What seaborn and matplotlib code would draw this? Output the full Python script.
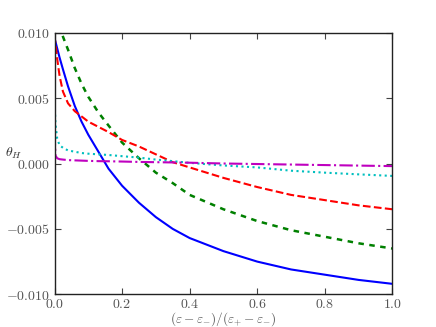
import numpy as np
import pandas as pd
import seaborn as sns
import matplotlib
matplotlib.use("Agg")
import matplotlib.pyplot as plt
from matplotlib.ticker import FixedLocator, FuncFormatter

# values
x = [0, 0.003, 0.008, 0.015, 0.025, 0.04, 0.06, 0.08, 0.1, 0.13, 0.16,
     0.2, 0.25, 0.3, 0.35, 0.4, 0.5, 0.6, 0.7, 0.8, 0.9, 1.0]

blue = [0.0096, 0.0093, 0.0088, 0.0081, 0.0072, 0.0059, 0.0044, 0.0032, 0.0022, 0.0009, -0.0004,
        -0.0017, -0.0030, -0.0041, -0.0050, -0.0057, -0.0067, -0.0075, -0.0081, -0.0085, -0.0089, -0.0092]
green = [0.0122, 0.0118, 0.0112, 0.0105, 0.0097, 0.0087, 0.0073, 0.0061, 0.0051, 0.0039, 0.0029,
         0.0016, 0.0004, -0.0007, -0.0015, -0.0024, -0.0035, -0.0044, -0.0051, -0.0056, -0.0061, -0.0065]
red = [0.0098, 0.0091, 0.0080, 0.0067, 0.0055, 0.0046, 0.0040, 0.0036, 0.0032, 0.0028, 0.0024,
       0.0018, 0.0013, 0.0007, 0.0001, -0.0003, -0.0011, -0.0018, -0.0024, -0.0028, -0.0032, -0.0035]
cyan = [0.0050, 0.0030, 0.0019, 0.0014, 0.0012, 0.0010, 0.0009, 0.0008, 0.00075, 0.0007, 0.00065,
        0.00056, 0.00045, 0.0003, 0.00018, 0.00005, -0.00015, -0.0003, -0.00055, -0.0007, -0.00083, -0.00095]
magenta = [0.0024, 0.0006, 0.0004, 0.00033, 0.0003, 0.00026, 0.00024, 0.00022, 0.0002, 0.00018, 0.00017,
           0.00015, 0.00012, 0.0001, 0.00008, 0.00006, 0.0, -0.00004, -0.00008, -0.00012, -0.00016, -0.0002]

xticks = [0.0, 0.2, 0.4, 0.6, 0.8, 1.0]
yticks = [-0.010, -0.005, 0.000, 0.005, 0.010]

sns.set_style("ticks")
plt.rcParams["font.family"] = ["DejaVu Serif"]
plt.rcParams["mathtext.fontset"] = "cm"
plt.rcParams["xtick.direction"] = "in"
plt.rcParams["ytick.direction"] = "in"

fig = plt.figure(figsize=(4.36, 3.27), dpi=100)
ax = fig.add_axes([0.125, 0.1, 0.775, 0.8])

lw = 1.5
sns.lineplot(x=x, y=blue, ax=ax, color="#0000ff", lw=lw, linestyle="-")
sns.lineplot(x=x, y=green, ax=ax, color="#008000", lw=lw + 0.3, linestyle=(0, (2.2, 2.2)))
sns.lineplot(x=x, y=red, ax=ax, color="#ff0000", lw=lw, linestyle="--")
sns.lineplot(x=x, y=cyan, ax=ax, color="#00bfbf", lw=lw, linestyle=":")
sns.lineplot(x=x, y=magenta, ax=ax, color="#bf00bf", lw=lw, linestyle="-.")

ax.set_xlim(0, 1)
ax.set_ylim(-0.010, 0.010)
ax.xaxis.set_major_locator(FixedLocator(xticks))
ax.yaxis.set_major_locator(FixedLocator(yticks))
ax.xaxis.set_major_formatter(FuncFormatter(lambda v, p: r"$%.1f$" % v))
ax.yaxis.set_major_formatter(FuncFormatter(lambda v, p: r"$%.3f$" % v))
ax.tick_params(top=True, right=True, length=4, width=0.8, labelsize=10, colors="#444444",
               labelcolor="#555555")
ax.tick_params(axis="x", pad=2)
for s in ax.spines.values():
    s.set_linewidth(1.0)
    s.set_color("#222222")

ax.set_xlabel(r"$(\varepsilon-\varepsilon_{-})/(\varepsilon_{+}-\varepsilon_{-})$", fontsize=9.5,
              color="#555555")
ax.xaxis.set_label_coords(0.5, -0.061)
ax.set_ylabel(r"$\theta_H$", fontsize=10, rotation=0, color="#333333", va="center")
ax.yaxis.set_label_coords(-0.12, 0.54)

fig.savefig("out.png", dpi=100)
